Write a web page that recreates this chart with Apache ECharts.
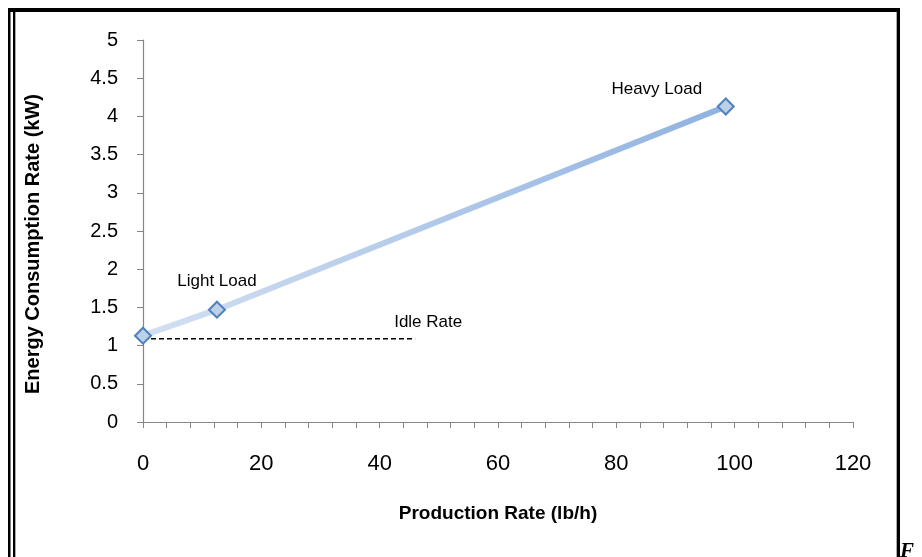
<!DOCTYPE html>
<html>
<head>
<meta charset="utf-8">
<script src="https://cdn.jsdelivr.net/npm/echarts@6/dist/echarts.min.js"></script>
<style>
  html, body { margin: 0; padding: 0; background: #fff; }
  #chart { width: 922px; height: 557px; }
</style>
</head>
<body>
<div id="chart"></div>
<script>
// Operating points of the machine: production rate (lb/h) vs energy use (kW)
const pointNames = ['Idle', 'Light Load', 'Heavy Load'];
const productionRate = [0, 12.5, 98.5];
const energyRate = [1.13, 1.47, 4.13];

// Idle-rate reference line
const idleX = [0, 46];
const idleY = [1.09, 1.09];
const idleLabel = 'Idle Rate';

// Axis ranges
const xMin = 0, xMax = 120, xStep = 20;
const yMin = 0, yMax = 5, yStep = 0.5;

const chart = echarts.init(document.getElementById('chart'));

const labelFont = { fontFamily: 'Liberation Sans, Arial, sans-serif', fontSize: 17, color: '#000' };
const labelOffsets = { 'Light Load': [0, -28], 'Heavy Load': [-69, -17] };

const loadData = productionRate.map((x, i) => {
  const name = pointNames[i];
  const off = labelOffsets[name];
  return {
    name: name,
    value: [x, energyRate[i]],
    label: off ? { show: true, position: 'inside', offset: off, formatter: '{b}', ...labelFont } : { show: false }
  };
});

const idleData = idleX.map((x, i) => [x, idleY[i]]);

chart.setOption({
  animation: false,
  backgroundColor: '#fff',
  grid: { left: 143, right: 69, top: 40, bottom: 135, containLabel: false },
  xAxis: {
    type: 'value',
    min: xMin, max: xMax, interval: xStep,
    name: 'Production Rate (lb/h)',
    nameLocation: 'middle',
    nameGap: 82,
    nameTextStyle: { fontFamily: 'Liberation Sans, Arial, sans-serif', fontWeight: 'bold', fontSize: 19, color: '#000' },
    axisLine: { lineStyle: { color: '#868686', width: 1.2 } },
    axisTick: { show: true, inside: false, length: 6, lineStyle: { color: '#868686' } },
    minorTick: { show: true, splitNumber: 5, length: 6, lineStyle: { color: '#868686' } },
    splitLine: { show: false },
    axisLabel: { margin: 31, fontFamily: 'Liberation Sans Narrow, Liberation Sans, sans-serif', fontSize: 22, color: '#000' }
  },
  yAxis: {
    type: 'value',
    min: yMin, max: yMax, interval: yStep,
    name: 'Energy Consumption Rate (kW)',
    nameLocation: 'middle',
    nameGap: 100,
    nameTextStyle: { fontFamily: 'Liberation Sans, Arial, sans-serif', fontWeight: 'bold', fontSize: 20, color: '#000', padding: [0, 26, 0, 0] },
    axisLine: { show: true, lineStyle: { color: '#868686', width: 1.2 } },
    axisTick: { show: true, inside: false, length: 6, lineStyle: { color: '#868686' } },
    splitLine: { show: false },
    axisLabel: { margin: 25, fontFamily: 'Liberation Sans, Arial, sans-serif', fontSize: 20, color: '#000' }
  },
  series: [
    {
      name: 'Idle Rate',
      type: 'line',
      data: idleData,
      symbol: 'none',
      lineStyle: { color: '#000', width: 1.5, type: [5, 3] },
      endLabel: { show: true, formatter: idleLabel, align: 'left', offset: [-29, -16], ...labelFont },
      z: 2
    },
    {
      name: 'Load',
      type: 'line',
      data: loadData,
      symbol: 'diamond',
      symbolSize: 16,
      itemStyle: { color: '#bcd0e8', borderColor: '#4f81bd', borderWidth: 2 },
      lineStyle: {
        width: 6,
        color: new echarts.graphic.LinearGradient(0, 0, 1, 0, [
          { offset: 0, color: '#d3e0f2' },
          { offset: 1, color: '#8fb2e0' }
        ])
      },
      z: 3
    }
  ],
  graphic: [
    { type: 'rect', shape: { x: 8, y: 8, width: 892, height: 4 }, style: { fill: '#000' }, silent: true },
    { type: 'rect', shape: { x: 8, y: 8, width: 2.5, height: 549 }, style: { fill: '#000' }, silent: true },
    { type: 'rect', shape: { x: 13, y: 12, width: 2, height: 545 }, style: { fill: '#000' }, silent: true },
    { type: 'rect', shape: { x: 15, y: 12, width: 1, height: 545 }, style: { fill: '#aaa' }, silent: true },
    { type: 'rect', shape: { x: 896, y: 12, width: 1, height: 545 }, style: { fill: '#aaa' }, silent: true },
    { type: 'rect', shape: { x: 897, y: 8, width: 3, height: 549 }, style: { fill: '#000' }, silent: true },
    { type: 'text', left: 900, top: 541, style: { text: 'F', font: 'italic bold 21px "Liberation Serif", serif', fill: '#000' }, silent: true }
  ]
});
</script>
</body>
</html>
